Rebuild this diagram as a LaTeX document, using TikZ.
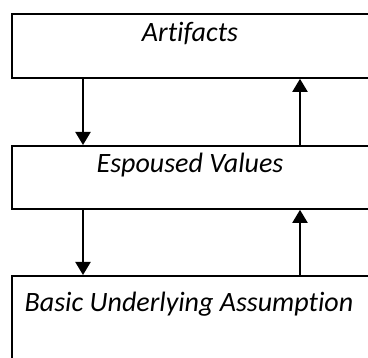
\documentclass[tikz,border=0pt]{standalone}
\usepackage{fontspec}
\setmainfont[Ligatures=NoCommon]{Carlito}
\usetikzlibrary{arrows.meta}
\begin{document}
\begin{tikzpicture}[x=1pt,y=-1pt,
  box/.style={draw=black,line width=1.8pt,rectangle,inner sep=0pt,anchor=north west},
  lab/.style={font=\fontsize{28}{32}\selectfont\itshape,inner sep=0pt,anchor=base},
  conn/.style={line width=2pt,-{Triangle[width=15pt,length=13pt]}}]
\useasboundingbox (0,0) rectangle (368,358);
\clip (0,0) rectangle (368,358);
\node[box,minimum width=380pt,minimum height=64pt] (b1) at (11,13) {};
\node[box,minimum width=380pt,minimum height=63pt] (b2) at (11,145) {};
\node[box,minimum width=380pt,minimum height=120pt] (b3) at (11,275) {};
\node[lab] (t1) at (190,42) {Artifacts};
\node[lab] (t2) at (190,173) {Espoused Values};
\node[lab] (t3) at (189,312) {Basic Underlying Assumption};
\coordinate (L) at (83,0);
\coordinate (R) at (300,0);
\draw[conn] (b1.south -| L) -- (b2.north -| L);
\draw[conn] (b2.north -| R) -- (b1.south -| R);
\draw[conn] (b2.south -| L) -- (b3.north -| L);
\draw[conn] (b3.north -| R) -- (b2.south -| R);
\end{tikzpicture}
\end{document}
